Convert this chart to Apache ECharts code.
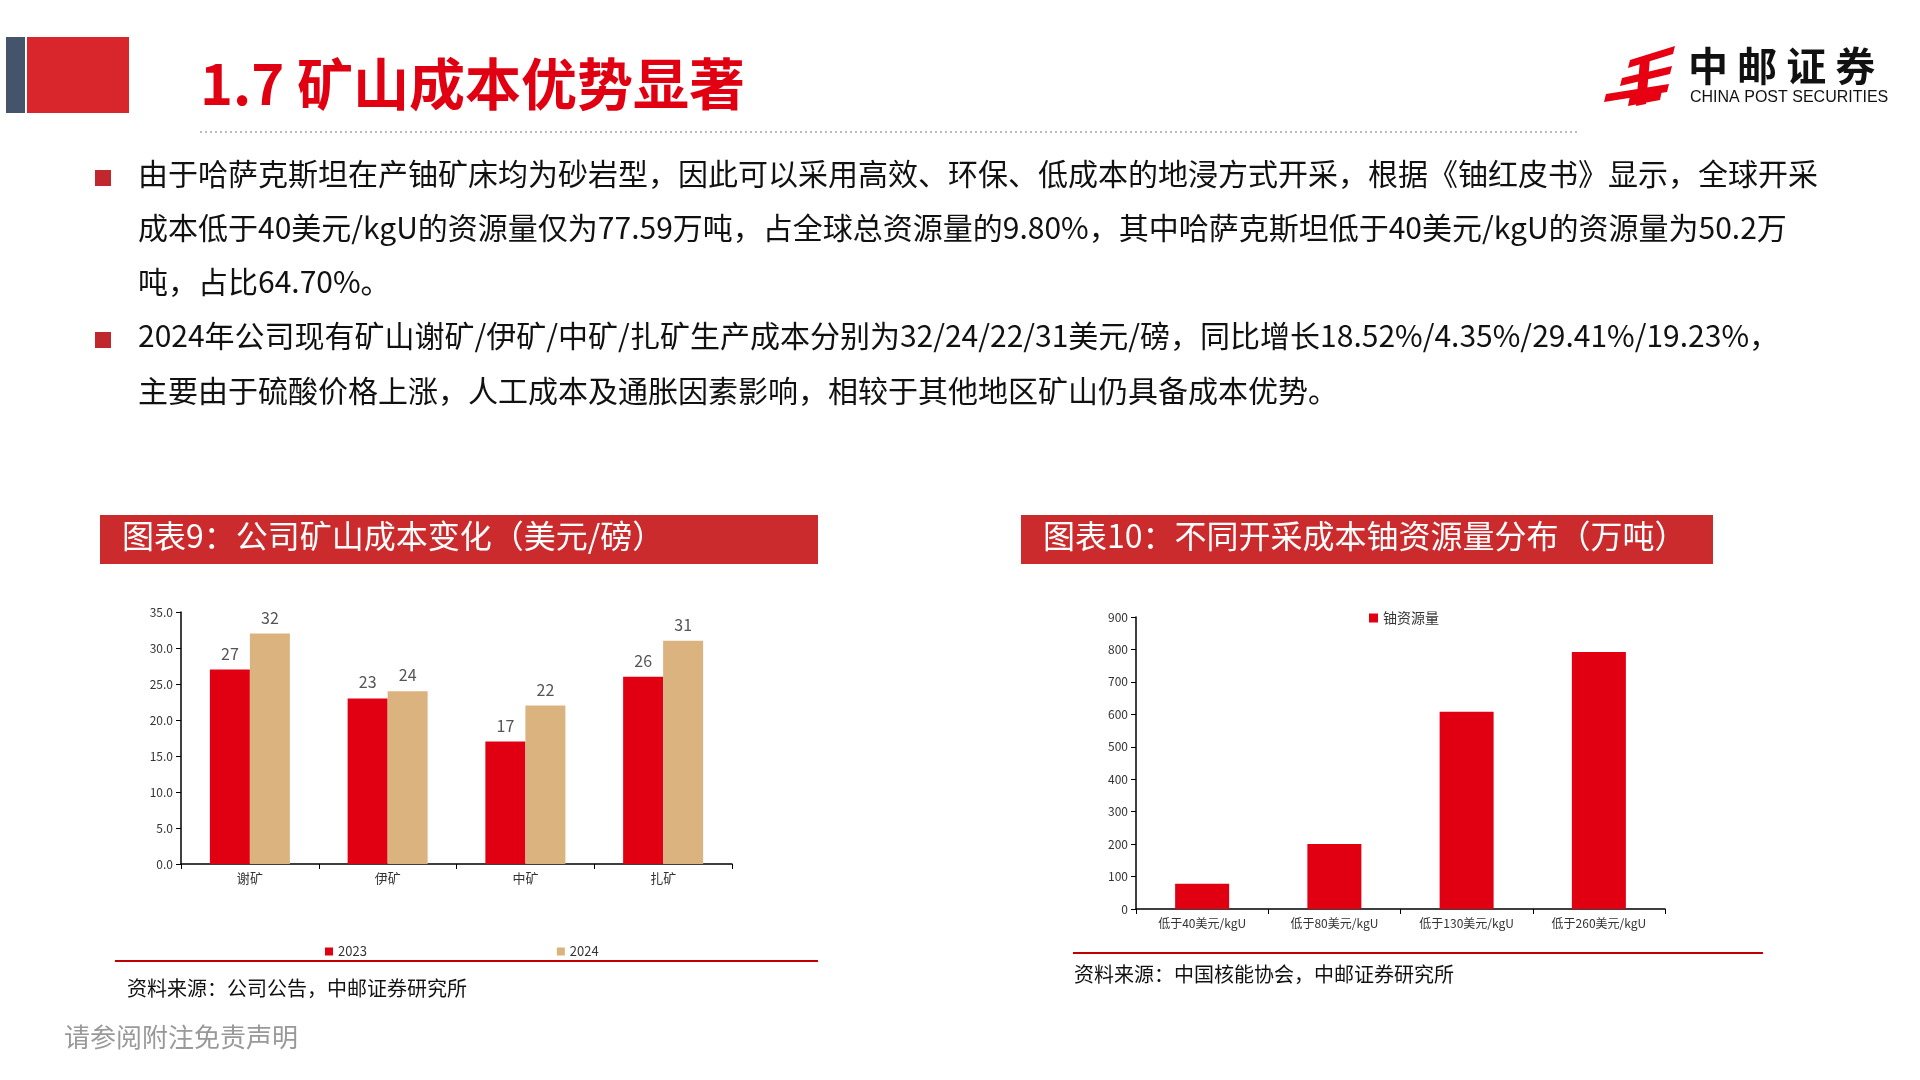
<!DOCTYPE html>
<html><head><meta charset="utf-8">
<script src="https://cdn.jsdelivr.net/npm/echarts@6/dist/echarts.min.js"></script>
<style>html,body{margin:0;padding:0;background:#fff}#main{width:1920px;height:1080px}</style>
</head><body><div id="main"></div>
<script>
// 图表9 数据
var mines = ['谢矿', '伊矿', '中矿', '扎矿'];
var cost2023 = [27, 23, 17, 26];
var cost2024 = [32, 24, 22, 31];
// 图表10 数据
var costLevels = ['低于40美元/kgU', '低于80美元/kgU', '低于130美元/kgU', '低于260美元/kgU'];
var resources = [77.6, 200, 608, 792];

var FONT = '"Noto Sans CJK SC", "Noto Sans", sans-serif';
var RED = '#e00012', TAN = '#dbb37f';
var chart = echarts.init(document.getElementById('main'));

var bullets = [
  '由于哈萨克斯坦在产铀矿床均为砂岩型，因此可以采用高效、环保、低成本的地浸方式开采，根据《铀红皮书》显示，全球开采',
  '成本低于40美元/kgU的资源量仅为77.59万吨，占全球总资源量的9.80%，其中哈萨克斯坦低于40美元/kgU的资源量为50.2万',
  '吨，占比64.70%。',
  '2024年公司现有矿山谢矿/伊矿/中矿/扎矿生产成本分别为32/24/22/31美元/磅，同比增长18.52%/4.35%/29.41%/19.23%，',
  '主要由于硫酸价格上涨，人工成本及通胀因素影响，相较于其他地区矿山仍具备成本优势。'
];
var lineY = [178, 232, 286, 340, 395];
var g = [
  {type:'rect', shape:{x:6,y:37,width:19,height:76}, style:{fill:'#44546a'}},
  {type:'rect', shape:{x:27,y:37,width:102,height:76}, style:{fill:'#d9262c'}},
  {type:'text', left:200, top:56, style:{text:'1.7 矿山成本优势显著', font:'bold 56px '+FONT, fill:'#e00012'}},
  {type:'line', shape:{x1:200,y1:132,x2:1577,y2:132}, style:{stroke:'#bbb', lineWidth:2, lineDash:[2,3]}},
  // logo
  {type:'polygon', shape:{points:[[1630,60],[1675,46],[1673,54],[1628,68]]}, style:{fill:'#e60012'}},
  {type:'polygon', shape:{points:[[1622,78],[1672,66],[1670,74],[1620,86]]}, style:{fill:'#e60012'}},
  {type:'polygon', shape:{points:[[1606,94],[1669,84],[1667,92],[1604,102]]}, style:{fill:'#e60012'}},
  {type:'polygon', shape:{points:[[1630,96],[1662,90],[1660,100],[1628,106]]}, style:{fill:'#e60012'}},
  {type:'polygon', shape:{points:[[1640,60],[1650,58],[1646,104],[1636,106]]}, style:{fill:'#e60012'}},
  {type:'text', left:1688, top:46, style:{text:'中 邮 证 券', font:'bold 40px '+FONT, fill:'#111'}},
  {type:'text', left:1690, top:90, style:{text:'CHINA POST SECURITIES', font:'16px Arial, "Liberation Sans"', fill:'#111'}},
  // 图表标题
  {type:'rect', shape:{x:100,y:515,width:718,height:49}, style:{fill:'#cc2b2e'}},
  {type:'text', left:122, top:520, style:{text:'图表9：公司矿山成本变化（美元/磅）', font:'32px '+FONT, fill:'#fff'}},
  {type:'rect', shape:{x:1021,y:515,width:692,height:49}, style:{fill:'#cc2b2e'}},
  {type:'text', left:1043, top:520, style:{text:'图表10：不同开采成本铀资源量分布（万吨）', font:'32px '+FONT, fill:'#fff'}},
  {type:'line', shape:{x1:115,y1:961,x2:818,y2:961}, style:{stroke:'#c00000', lineWidth:2}},
  {type:'text', left:127, top:978, style:{text:'资料来源：公司公告，中邮证券研究所', font:'20px '+FONT, fill:'#111'}},
  {type:'line', shape:{x1:1073,y1:953,x2:1763,y2:953}, style:{stroke:'#c00000', lineWidth:2}},
  {type:'text', left:1074, top:964, style:{text:'资料来源：中国核能协会，中邮证券研究所', font:'20px '+FONT, fill:'#111'}},
  {type:'text', left:64, top:1024, style:{text:'请参阅附注免责声明', font:'26px '+FONT, fill:'#999'}}
];
bullets.forEach(function (t, i) {
  if (i === 0 || i === 3) g.push({type:'rect', shape:{x:95,y:lineY[i]-8,width:16,height:16}, style:{fill:'#c0282d'}});
  g.push({type:'text', left:138, top:lineY[i]-19, style:{text:t, font:'30px '+FONT, fill:'#111'}});
});

var axisLine = {show:true, lineStyle:{color:'#000', width:1.5}};
chart.setOption({
  animation:false,
  textStyle:{fontFamily:FONT},
  graphic:g,
  legend:[
    {data:['2023','2024'], left:320, top:940, itemGap:190, itemWidth:8, itemHeight:8, icon:'rect',
     textStyle:{fontSize:13, color:'#333'}},
    {data:['铀资源量'], left:1364, top:606, itemWidth:9, itemHeight:9, icon:'rect',
     textStyle:{fontSize:14, color:'#333'}}
  ],
  grid:[
    {left:181, top:612, width:551, height:252},
    {left:1136, top:617, width:529, height:292}
  ],
  xAxis:[
    {type:'category', gridIndex:0, data:mines, axisLine:axisLine, axisTick:{show:true, lineStyle:{color:'#000'}},
     axisLabel:{fontSize:13, color:'#333'}},
    {type:'category', gridIndex:1, data:costLevels, axisLine:axisLine, axisTick:{show:true, lineStyle:{color:'#000'}},
     axisLabel:{fontSize:12, color:'#333'}}
  ],
  yAxis:[
    {type:'value', gridIndex:0, min:0, max:35, interval:5, axisLine:axisLine, axisTick:{show:true, lineStyle:{color:'#000'}},
     splitLine:{show:false}, axisLabel:{fontSize:12, color:'#333', formatter:function(v){return v.toFixed(1);}}},
    {type:'value', gridIndex:1, min:0, max:900, interval:100, axisLine:axisLine, axisTick:{show:true, lineStyle:{color:'#000'}},
     splitLine:{show:false}, axisLabel:{fontSize:12, color:'#333'}}
  ],
  series:[
    {name:'2023', type:'bar', xAxisIndex:0, yAxisIndex:0, data:cost2023, barWidth:40, barGap:'0%', itemStyle:{color:RED},
     label:{show:true, position:'top', fontSize:16, color:'#555', distance:8}},
    {name:'2024', type:'bar', xAxisIndex:0, yAxisIndex:0, data:cost2024, barWidth:40, itemStyle:{color:TAN},
     label:{show:true, position:'top', fontSize:16, color:'#555', distance:8}},
    {name:'铀资源量', type:'bar', xAxisIndex:1, yAxisIndex:1, data:resources, barWidth:54, itemStyle:{color:RED}}
  ]
});
</script></body></html>
